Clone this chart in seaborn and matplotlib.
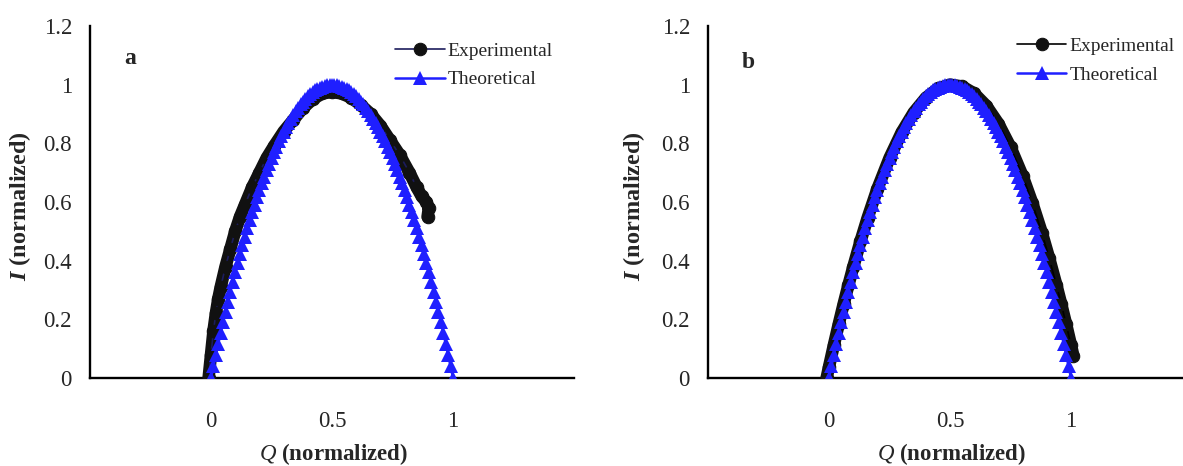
import matplotlib
matplotlib.use("Agg")
import matplotlib.pyplot as plt
import seaborn as sns

# theoretical curve (same in both panels)
theory_q = [0.00, 0.01, 0.02, 0.03, 0.04, 0.05, 0.06, 0.07, 0.08, 0.09,
            0.10, 0.11, 0.12, 0.13, 0.14, 0.15, 0.16, 0.17, 0.18, 0.19,
            0.20, 0.21, 0.22, 0.23, 0.24, 0.25, 0.26, 0.27, 0.28, 0.29,
            0.30, 0.31, 0.32, 0.33, 0.34, 0.35, 0.36, 0.37, 0.38, 0.39,
            0.40, 0.41, 0.42, 0.43, 0.44, 0.45, 0.46, 0.47, 0.48, 0.49,
            0.50, 0.51, 0.52, 0.53, 0.54, 0.55, 0.56, 0.57, 0.58, 0.59,
            0.60, 0.61, 0.62, 0.63, 0.64, 0.65, 0.66, 0.67, 0.68, 0.69,
            0.70, 0.71, 0.72, 0.73, 0.74, 0.75, 0.76, 0.77, 0.78, 0.79,
            0.80, 0.81, 0.82, 0.83, 0.84, 0.85, 0.86, 0.87, 0.88, 0.89,
            0.90, 0.91, 0.92, 0.93, 0.94, 0.95, 0.96, 0.97, 0.98, 0.99, 1.00]
theory_i = [0.0, 0.0396, 0.0784, 0.1164, 0.1536, 0.19, 0.2256, 0.2604, 0.2944, 0.3276,
            0.36, 0.3916, 0.4224, 0.4524, 0.4816, 0.51, 0.5376, 0.5644, 0.5904, 0.6156,
            0.64, 0.6636, 0.6864, 0.7084, 0.7296, 0.75, 0.7696, 0.7884, 0.8064, 0.8236,
            0.84, 0.8556, 0.8704, 0.8844, 0.8976, 0.91, 0.9216, 0.9324, 0.9424, 0.9516,
            0.96, 0.9676, 0.9744, 0.9804, 0.9856, 0.99, 0.9936, 0.9964, 0.9984, 0.9996,
            1.0, 0.9996, 0.9984, 0.9964, 0.9936, 0.99, 0.9856, 0.9804, 0.9744, 0.9676,
            0.96, 0.9516, 0.9424, 0.9324, 0.9216, 0.91, 0.8976, 0.8844, 0.8704, 0.8556,
            0.84, 0.8236, 0.8064, 0.7884, 0.7696, 0.75, 0.7296, 0.7084, 0.6864, 0.6636,
            0.64, 0.6156, 0.5904, 0.5644, 0.5376, 0.51, 0.4816, 0.4524, 0.4224, 0.3916,
            0.36, 0.3276, 0.2944, 0.2604, 0.2256, 0.19, 0.1536, 0.1164, 0.0784, 0.0396, 0.0]

# panel a experimental
exp_a_q = [-0.01, 0.0, 0.01, 0.02, 0.03, 0.04, 0.06, 0.08, 0.10, 0.12, 0.14, 0.17,
           0.20, 0.23, 0.26, 0.30, 0.34, 0.38, 0.42, 0.46, 0.50, 0.54, 0.58, 0.62,
           0.66, 0.70, 0.74, 0.78, 0.82, 0.85, 0.87, 0.89, 0.90, 0.895]
exp_a_i = [0.0, 0.08, 0.16, 0.22, 0.27, 0.31, 0.38, 0.44, 0.50, 0.55, 0.59, 0.65,
           0.70, 0.75, 0.79, 0.84, 0.88, 0.92, 0.95, 0.97, 0.975, 0.97, 0.955, 0.93,
           0.90, 0.86, 0.81, 0.76, 0.70, 0.65, 0.62, 0.60, 0.58, 0.55]

# panel b experimental
exp_b_q = [-0.01, 0.0, 0.02, 0.04, 0.06, 0.08, 0.10, 0.13, 0.16, 0.20, 0.25, 0.30,
           0.35, 0.40, 0.45, 0.50, 0.55, 0.60, 0.65, 0.70, 0.75, 0.80, 0.84, 0.88,
           0.91, 0.94, 0.96, 0.98, 1.00, 1.01]
exp_b_i = [0.0, 0.038, 0.112, 0.183, 0.251, 0.316, 0.378, 0.466, 0.547, 0.645, 0.75, 0.837,
           0.905, 0.955, 0.987, 1.0, 0.994, 0.970, 0.928, 0.867, 0.787, 0.689, 0.597, 0.494,
           0.408, 0.316, 0.251, 0.183, 0.112, 0.075]

# letter, data, legend line colour, axes left (px), ylabel x, legend anchor, letter y
panels = [
    ("a", exp_a_q, exp_a_i, "#1c1c5c", 90, -0.118, (0.63, 0.953), 1.09),
    ("b", exp_b_q, exp_b_i, "black", 708, -0.126, (0.638, 0.967), 1.075),
]

sns.set_style("white")
plt.rcParams["font.family"] = ["Liberation Serif", "DejaVu Serif"]
plt.rcParams["mathtext.fontset"] = "custom"
plt.rcParams["mathtext.rm"] = "Liberation Serif"
plt.rcParams["mathtext.it"] = "Liberation Serif:italic"
plt.rcParams["mathtext.bf"] = "Liberation Serif:bold"
plt.rcParams["mathtext.bfit"] = "Liberation Serif:bold:italic"

W, H = 1183, 466
fig = plt.figure(figsize=(W / 100, H / 100), dpi=100)

for letter, eq, ei, line_col, left_px, ylab_x, leg_anchor, letter_y in panels:
    ax = fig.add_axes([left_px / W, (H - 378) / H, 484 / W, 352 / H])

    # thick band underneath the dense experimental circles
    sns.lineplot(x=eq, y=ei, ax=ax, sort=False, estimator=None, color="#111111",
                 linewidth=9, solid_capstyle="round", solid_joinstyle="round",
                 legend=False, zorder=2)
    sns.lineplot(x=eq, y=ei, ax=ax, sort=False, estimator=None, color=line_col,
                 linewidth=1.2, marker="o", markersize=9, markerfacecolor="#111111",
                 markeredgecolor="#111111", label="Experimental", zorder=3)
    sns.lineplot(x=theory_q, y=theory_i, ax=ax, sort=False, estimator=None,
                 color="#1f1fff", linewidth=1.8, marker="^", markersize=10,
                 markerfacecolor="#1f1fff", markeredgecolor="#1f1fff", markeredgewidth=0,
                 label="Theoretical", zorder=4)

    ax.set_xlim(-0.5, 1.5)
    ax.set_ylim(0, 1.2)
    ax.set_xticks([0, 0.5, 1])
    ax.set_xticklabels(["0", "0.5", "1"])
    ax.set_yticks([0, 0.2, 0.4, 0.6, 0.8, 1.0, 1.2])
    ax.set_yticklabels(["0", "0.2", "0.4", "0.6", "0.8", "1", "1.2"])
    ax.tick_params(axis="x", direction="in", length=6, width=1.6, pad=24, labelsize=16.5)
    ax.tick_params(axis="y", direction="in", length=6, width=1.6, pad=13, labelsize=16.5)
    for side in ["top", "right"]:
        ax.spines[side].set_visible(False)
    for side in ["left", "bottom"]:
        ax.spines[side].set_linewidth(1.7)
        ax.spines[side].set_color("black")
    ax.spines["bottom"].set_zorder(1)

    ax.set_xlabel(r"$\mathit{Q}$ (normalized)", fontsize=16.5, fontweight="bold")
    ax.set_ylabel(r"$\mathbfit{I}$ (normalized)", fontsize=17.5, fontweight="bold")
    ax.xaxis.set_label_coords(0.502, -0.18)
    ax.yaxis.set_label_coords(ylab_x, 0.49)

    ax.text(-0.335, letter_y, letter, fontsize=17, fontweight="bold", ha="center", va="center")

    ax.legend(loc="upper left", bbox_to_anchor=leg_anchor, frameon=False, fontsize=14,
              handlelength=2.55, handletextpad=0.15, labelspacing=0.55, borderaxespad=0,
              borderpad=0)
    ax.set_facecolor("white")

fig.savefig("out.png", dpi=100, facecolor="white")
